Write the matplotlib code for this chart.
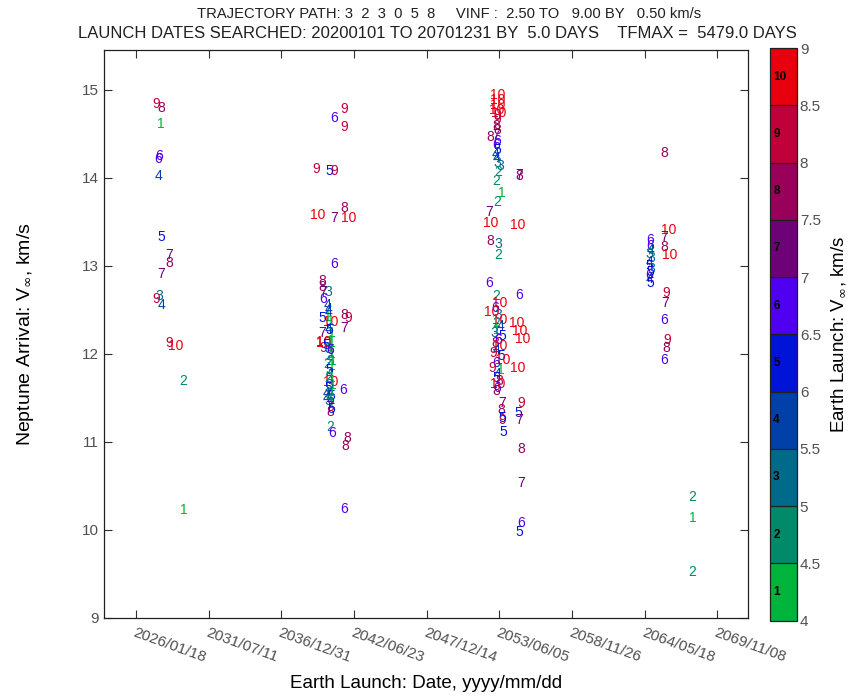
import numpy as np
import matplotlib
matplotlib.use('Agg')
import matplotlib.pyplot as plt
import matplotlib.dates as mdates
from matplotlib.colors import ListedColormap, BoundaryNorm
from matplotlib.cm import ScalarMappable

plt.rcParams['font.family'] = ['Liberation Sans', 'DejaVu Sans']

# launch dates are given as days after the search start (2020-01-01)
search_start = np.datetime64('2020-01-01')

# window ~2027
launch_day_a = [2751, 2897, 2878, 2842, 2814, 2834, 2897, 3125, 3125, 2897, 2751, 2850, 2905, 3117, 3302, 3511, 3511]
arrival_vinf_a = [14.84, 14.79, 14.61, 14.25, 14.21, 14.02, 13.32, 13.12, 13.03, 12.91, 12.62, 12.65, 12.55, 12.12, 12.09, 11.69, 10.22]
launch_bin_a = [9, 8, 1, 6, 6, 4, 5, 7, 8, 7, 9, 3, 4, 9, 10, 2, 1]

# window ~2040
launch_day_b = [7941, 7658, 7941, 7171, 7540, 7658, 7209, 7933, 7658, 8071, 7658, 7336, 7336, 7363, 7501, 7347,
                7501, 7347, 7501, 7567, 7933, 8052, 7933, 7501, 7336, 7363, 7611, 7363, 7595, 7567, 7914, 7501,
                7457, 7548, 7567, 7595, 8024, 7961, 7933,
                7493, 7520, 7575, 7603, 7383, 7575, 7438, 7493, 7520, 7548, 7465, 7603, 7520, 7548, 7493, 7630,
                7465, 7575, 7548, 7603, 7520, 7493, 7575, 7603, 7603, 7630, 7520, 7548, 7520, 7520]
arrival_vinf_b = [14.78, 14.68, 14.57, 14.10, 14.07, 14.07, 13.58, 13.65, 13.54, 13.54, 13.02, 12.82, 12.76, 12.70, 12.70, 12.62,
                  12.51, 12.40, 12.42, 12.36, 12.44, 12.41, 12.29, 12.28, 12.23, 12.12, 12.12, 12.06, 12.00, 11.68, 11.59, 11.61,
                  11.49, 11.34, 11.17, 11.10, 11.04, 10.95, 10.23,
                  12.55, 12.47, 12.37, 12.23, 12.13, 12.14, 12.10, 12.05, 11.97, 11.92, 11.88, 11.86, 11.81, 11.77, 11.72, 11.64,
                  11.55, 11.52, 11.47, 11.43, 11.39, 11.46, 11.37, 11.56, 11.72, 11.92, 12.27, 12.04, 11.64, 11.53]
launch_bin_b = [9, 6, 9, 9, 5, 9, 10, 8, 7, 10, 6, 8, 8, 7, 3, 6,
                4, 5, 1, 10, 8, 9, 7, 4, 7, 10, 1, 9, 1, 10, 6, 5,
                4, 8, 2, 6, 8, 8, 6,
                4, 4, 1, 1, 10, 1, 5, 3, 2, 3, 2, 1, 5, 4, 2, 1,
                4, 5, 6, 1, 7, 3, 5, 1, 1, 1, 5, 6, 3, 2]

# window ~2053
launch_day_c = [12152, 12152, 12171, 12180, 12144, 12152, 12144, 12116, 12144, 12116, 11970, 12144, 12116, 12144, 12116,
                12144, 12144, 12246, 12171, 12116, 12757, 12749, 12290, 12152, 11932, 11970, 12713, 11951, 12180, 12180,
                11932, 12749, 12135, 12207, 12089, 12006, 12171, 12226, 12686, 12116, 12254, 12757, 12144, 12061, 12281,
                12851, 12171, 12089, 12226, 12144, 12034, 12254, 12309, 12116, 12025, 12702, 12254, 12171, 12116, 12199,
                12152, 12144, 12135, 12823, 12273, 12273, 12730, 12757, 12290, 12281, 12317, 12804, 12796, 12796, 12749]
arrival_vinf_c = [14.94, 14.88, 14.82, 14.73, 14.77, 14.71, 14.65, 14.59, 14.54, 14.48, 14.46, 14.42, 14.37, 14.31, 14.27,
                  14.22, 14.17, 14.13, 14.06, 13.96, 14.02, 14.03, 13.82, 13.72, 13.61, 13.48, 13.46, 13.28, 13.25, 13.12,
                  12.80, 12.67, 12.65, 12.57, 12.52, 12.47, 12.44, 12.38, 12.35, 12.35, 12.31, 12.26, 12.27, 12.23, 12.20,
                  12.17, 12.15, 12.12, 12.09, 12.04, 12.01, 11.97, 11.93, 11.89, 11.84, 11.84, 11.81, 11.77, 11.72, 11.69,
                  11.65, 11.61, 11.57, 11.44, 11.44, 11.36, 11.32, 11.25, 11.25, 11.27, 11.11, 10.92, 10.53, 10.07, 9.97]
launch_bin_c = [10, 10, 10, 10, 10, 9, 9, 8, 8, 7, 8, 6, 6, 5, 4,
                4, 3, 3, 2, 2, 8, 7, 1, 2, 7, 10, 10, 8, 3, 2,
                6, 6, 2, 10, 6, 10, 3, 10, 10, 2, 4, 10, 1, 3, 5,
                10, 6, 8, 10, 4, 9, 5, 10, 6, 9, 10, 1, 4, 5, 8,
                10, 6, 8, 9, 7, 8, 5, 7, 9, 5, 5, 8, 7, 6, 5]

# window ~2065
launch_day_d = [16748, 16858, 16740, 16748, 16885, 16814, 16767, 16748, 16841, 16795, 16748, 17529, 17529, 17529,
                16354, 16354, 16382, 16327, 16382, 16354, 16327, 16382, 16354, 16327, 16354, 16354]
arrival_vinf_d = [14.28, 13.41, 13.33, 13.21, 13.12, 12.69, 12.58, 12.38, 12.16, 12.06, 11.93, 10.37, 10.13, 9.52,
                  13.29, 13.22, 13.18, 13.13, 13.09, 13.04, 12.99, 12.96, 12.93, 12.89, 12.85, 12.80]
launch_bin_d = [8, 10, 7, 8, 10, 9, 7, 6, 9, 8, 6, 2, 1, 2,
                6, 6, 4, 3, 3, 4, 5, 3, 5, 6, 4, 5]

launch_day = launch_day_a + launch_day_b + launch_day_c + launch_day_d
arrival_vinf = arrival_vinf_a + arrival_vinf_b + arrival_vinf_c + arrival_vinf_d
launch_bin = launch_bin_a + launch_bin_b + launch_bin_c + launch_bin_d

vinf_edges = [4.0, 4.5, 5.0, 5.5, 6.0, 6.5, 7.0, 7.5, 8.0, 8.5, 9.0]
bin_colors = ['#00b43c', '#008a6a', '#006a8a', '#0040a8', '#0014d8',
              '#5000f0', '#6e0078', '#98005a', '#c0003a', '#e8000f']
date_ticks = ['2026/01/18', '2031/07/11', '2036/12/31', '2042/06/23', '2047/12/14',
              '2053/06/05', '2058/11/26', '2064/05/18', '2069/11/08']
x_range_days = [1328, 19054]
y_range = [9, 15.45]
y_ticks = [9, 10, 11, 12, 13, 14, 15]

title1 = 'TRAJECTORY PATH: 3  2  3  0  5  8     VINF :  2.50 TO   9.00 BY   0.50 km/s'
title2 = 'LAUNCH DATES SEARCHED: 20200101 TO 20701231 BY  5.0 DAYS    TFMAX =  5479.0 DAYS'

grey = '#505050'

fig = plt.figure(figsize=(8.54, 6.98), dpi=100)
ax = fig.add_axes([0.1218, 0.1152, 0.7541, 0.8132])

xs = mdates.date2num(search_start + np.array(launch_day).astype('timedelta64[D]'))
for xv, yv, k in zip(xs, arrival_vinf, launch_bin):
    ax.text(xv, yv, str(k), color=bin_colors[k - 1], fontsize=10,
            ha='center', va='center', clip_on=True)

tick_pos = mdates.date2num(np.array([np.datetime64(s.replace('/', '-')) for s in date_ticks]))
ax.set_xticks(tick_pos)
ax.set_xticklabels(date_ticks, rotation=-20, ha='left', va='top', rotation_mode='anchor')
for lbl in ax.get_xticklabels():
    lbl.set_x(lbl.get_position()[0])
xr = mdates.date2num(search_start + np.array(x_range_days).astype('timedelta64[D]'))
ax.set_xlim(xr[0], xr[1])
ax.set_ylim(y_range)
ax.set_yticks(y_ticks)
ax.tick_params(direction='in', top=True, right=True, length=6, width=0.8,
               labelsize=11, labelcolor=grey, color='#303030')
ax.tick_params(axis='x', pad=6)
for sp in ax.spines.values():
    sp.set_color('#202020')
    sp.set_linewidth(0.9)

ax.set_xlabel('Earth Launch: Date, yyyy/mm/dd', fontsize=13.5, labelpad=7)
ax.set_ylabel('Neptune Arrival: V$_\\infty$, km/s', fontsize=14, labelpad=33)

fig.text(449 / 854, 1 - 14 / 698, title1, fontsize=10.6, ha='center', va='center', color='#202020')
fig.text(437 / 854, 1 - 33 / 698, title2, fontsize=12, ha='center', va='center', color='#202020')

# colorbar
cax = fig.add_axes([770 / 854, 0.1110, 27 / 854, 0.8200])
sm = ScalarMappable(norm=BoundaryNorm(vinf_edges, len(bin_colors)), cmap=ListedColormap(bin_colors))
cb = fig.colorbar(sm, cax=cax, ticks=vinf_edges, drawedges=True)
cb.ax.set_yticklabels(['%g' % v for v in vinf_edges])
cb.ax.tick_params(length=0, pad=2, labelsize=11, labelcolor=grey)
cb.outline.set_edgecolor('#202020')
cb.outline.set_linewidth(0.9)
cb.dividers.set_color('#202020')
cb.dividers.set_linewidth(0.9)
for i in range(len(bin_colors)):
    cb.ax.text(0.12, (vinf_edges[i] + vinf_edges[i + 1]) / 2, str(i + 1),
               transform=cb.ax.get_yaxis_transform(), fontsize=8.5, fontweight='bold',
               color='black', ha='left', va='center')
cb.set_label('Earth Launch: V$_\\infty$, km/s', fontsize=13.5, labelpad=6)

fig.savefig('out.png', dpi=100)
